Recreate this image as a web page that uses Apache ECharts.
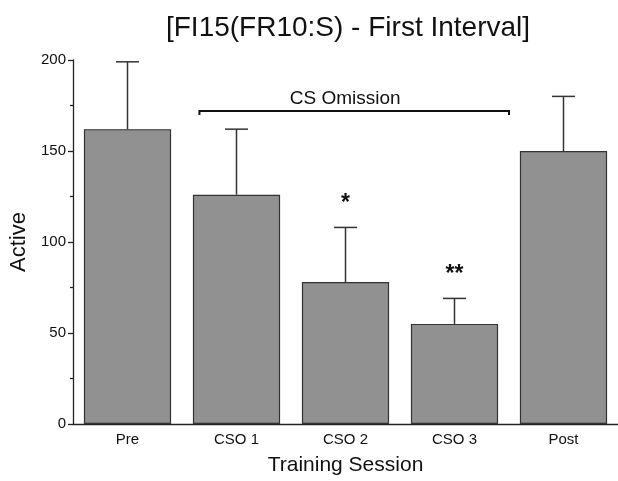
<!DOCTYPE html>
<html>
<head>
<meta charset="utf-8">
<script src="https://cdn.jsdelivr.net/npm/echarts@6/dist/echarts.min.js"></script>
<style>html,body{margin:0;padding:0;background:#fff;}#c{width:618px;height:481px;}</style>
</head>
<body>
<div id="c"></div>
<script>
var categories = ['Pre', 'CSO 1', 'CSO 2', 'CSO 3', 'Post'];
var means = [162, 126, 78, 55, 150];
var errorTops = [199, 162, 108, 69, 180];
var sigMarks = ['', '', '*', '**', ''];
var yTicks = [0, 50, 100, 150, 200];
var bracketFrom = 'CSO 1';
var bracketTo = 'CSO 3';
var bracketValue = 172;
var bracketLabel = 'CS Omission';

var FONT = '"Liberation Sans", Arial, sans-serif';
var chart = echarts.init(document.getElementById('c'));

chart.setOption({
  animation: false,
  backgroundColor: '#fff',
  title: {
    text: '[FI15(FR10:S) - First Interval]',
    left: 348, top: 14, textAlign: 'center', padding: 0,
    textStyle: { fontFamily: FONT, fontSize: 28, fontWeight: 'normal', color: '#111' }
  },
  grid: { left: 72, top: 60, width: 552, height: 368 },
  xAxis: {
    type: 'category', data: categories,
    name: 'Training Session', nameLocation: 'middle', nameGap: 31,
    nameTextStyle: { fontFamily: FONT, fontSize: 21, color: '#111' },
    axisLine: { lineStyle: { color: '#222', width: 1.3 } },
    axisTick: { alignWithLabel: true, length: 5, lineStyle: { color: '#222', width: 1.3 } },
    axisLabel: { fontFamily: FONT, fontSize: 15, color: '#111', margin: 8 }
  },
  yAxis: {
    type: 'value', min: 0, max: 200, interval: 50,
    name: 'Active', nameLocation: 'middle', nameGap: 43,
    nameTextStyle: { fontFamily: FONT, fontSize: 22, color: '#111' },
    axisLine: { show: true, lineStyle: { color: '#222', width: 1.3 } },
    axisTick: { show: true, length: 5, lineStyle: { color: '#222', width: 1.3 } },
    minorTick: { show: true, splitNumber: 2, length: 3, lineStyle: { color: '#222', width: 1.3 } },
    splitLine: { show: false },
    axisLabel: { fontFamily: FONT, fontSize: 15, color: '#111', margin: 7,
      formatter: function (v) { return yTicks.indexOf(v) >= 0 ? String(v) : ''; } }
  },
  series: [
    {
      type: 'bar', data: means, barWidth: '80%',
      itemStyle: { color: '#919191', borderColor: '#333', borderWidth: 1.2 },
      z: 2
    },
    {
      type: 'custom', z: 3,
      data: categories.map(function (c, i) { return [i, means[i], errorTops[i]]; }),
      renderItem: function (params, api) {
        var base = api.coord([api.value(0), api.value(1)]);
        var top = api.coord([api.value(0), api.value(2)]);
        var half = 11.5;
        var st = { stroke: '#333', lineWidth: 1.5 };
        return { type: 'group', children: [
          { type: 'line', shape: { x1: base[0], y1: base[1], x2: top[0], y2: top[1] }, style: st },
          { type: 'line', shape: { x1: top[0] - half, y1: top[1], x2: top[0] + half, y2: top[1] }, style: st }
        ] };
      }
    },
    {
      type: 'custom', z: 4,
      data: categories.map(function (c, i) { return [i, errorTops[i], sigMarks[i]]; }),
      renderItem: function (params, api) {
        var p = api.coord([api.value(0), api.value(1)]);
        return { type: 'text', x: p[0], y: p[1] - 24,
          style: { text: sigMarks[params.dataIndex], fontFamily: FONT, fontSize: 23, fontWeight: 'bold',
            fill: '#111', align: 'center', verticalAlign: 'middle' } };
      }
    },
    {
      type: 'custom', z: 4,
      data: [[categories.indexOf(bracketFrom), categories.indexOf(bracketTo), bracketValue]],
      renderItem: function (params, api) {
        var band = api.size([1, 0])[0];
        var a = api.coord([api.value(0), api.value(2)]);
        var b = api.coord([api.value(1), api.value(2)]);
        var x1 = a[0] - band * 0.34, x2 = b[0] + band * 0.5, y = a[1];
        var st = { stroke: '#111', lineWidth: 2, fill: null };
        return { type: 'group', children: [
          { type: 'polyline', shape: { points: [[x1, y + 4], [x1, y], [x2, y], [x2, y + 4]] }, style: st },
          { type: 'text', x: (x1 + x2) / 2 - 9, y: y - 3,
            style: { text: bracketLabel, fontFamily: FONT, fontSize: 19, fill: '#111',
              align: 'center', verticalAlign: 'bottom' } }
        ] };
      }
    }
  ]
});
</script>
</body>
</html>
